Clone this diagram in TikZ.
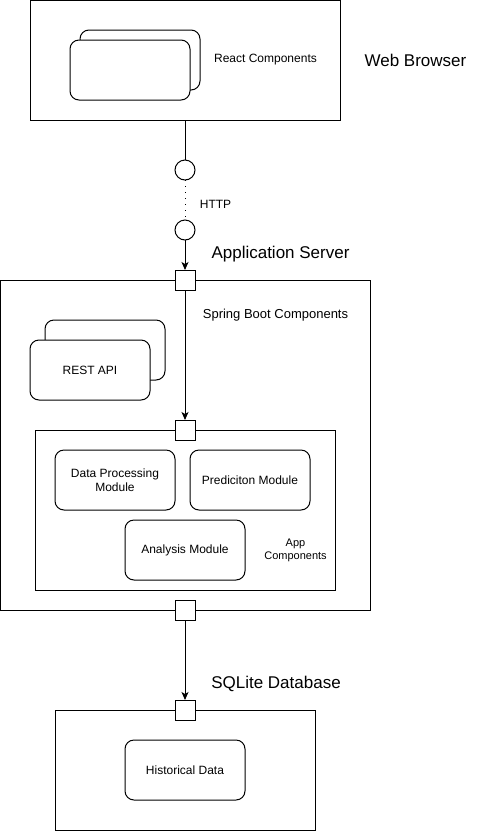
\documentclass[tikz,border=0pt]{standalone}
\usepackage{fontspec}
\setmainfont{Liberation Sans}
\usetikzlibrary{arrows.meta}
\begin{document}
\begin{tikzpicture}[x=1pt,y=-1pt,line width=1pt,
  frame/.style={draw,rectangle,fill=white,inner sep=0pt,outer sep=0pt},
  comp/.style={draw,rectangle,rounded corners=9pt,fill=white,inner sep=0pt,outer sep=0pt,
    minimum width=120pt,minimum height=60pt,align=center,font=\fontsize{12}{14.4}\selectfont},
  port/.style={draw,rectangle,fill=white,inner sep=0pt,outer sep=0pt,minimum size=20pt},
  iface/.style={draw,circle,fill=white,inner sep=0pt,outer sep=0pt,minimum size=20pt},
  small/.style={inner sep=0pt,align=center,font=\fontsize{12}{14.4}\selectfont},
  big/.style={inner sep=0pt,font=\fontsize{17}{20}\selectfont},
  arr/.style={-{Stealth[length=8pt,width=7pt,inset=2pt]}}]
\useasboundingbox (0,0) rectangle (481,831);
% Web browser
\node[frame,minimum width=310pt,minimum height=119.5pt] (web) at (185,60.25) {};
\node[comp] (reactback) at (140,60) {};
\node[comp] (react) at (130,70) {};
\node[small] (reactlbl) at (265.5,60) {React Components};
\node[big] (weblbl) at (415.5,60) {Web Browser};
% interfaces
\node[iface] (c1) at (185,170) {};
\node[iface] (c2) at (185,230) {};
\node[small] (http) at (215.5,204) {HTTP};
% application server
\node[frame,minimum width=369.5pt,minimum height=330pt] (app) at (185.25,445) {};
\node[big] (applbl) at (280.5,254) {Application Server};
\node[small,font=\fontsize{13}{15}\selectfont] (spring) at (275.5,315) {Spring Boot Components};
\node[comp] (restback) at (105,350) {};
\node[comp] (rest) at (90,370) {REST API};
\node[frame,minimum width=300pt,minimum height=160pt] (appcomp) at (185,510) {};
\node[comp] (dp) at (115,480) {Data Processing\\Module};
\node[comp] (pred) at (250,480) {Prediciton Module};
\node[comp] (ana) at (185,550) {Analysis Module};
\node[small,font=\fontsize{11}{13.3}\selectfont] (acl) at (295.5,550) {App\\Components};
% database
\node[frame,minimum width=260pt,minimum height=120pt] (db) at (185,770) {};
\node[big] (dblbl) at (276,684) {SQLite Database};
\node[comp] (hist) at (185,770) {Historical Data};
% ports
\node[port] (p1) at (185,280) {};
\node[port] (p2) at (185,430) {};
\node[port] (p3) at (185,610) {};
\node[port] (p4) at (185,710) {};
% connectors
\draw (web.south) -- (c1.north);
\draw[dash pattern=on 1pt off 5pt] (c1.south) -- (c2.north);
\draw[arr] (c2.south) -- (p1.north);
\draw[arr] (p1.south) -- (p2.north);
\draw[arr] (p3.south) -- (p4.north);
\end{tikzpicture}
\end{document}
